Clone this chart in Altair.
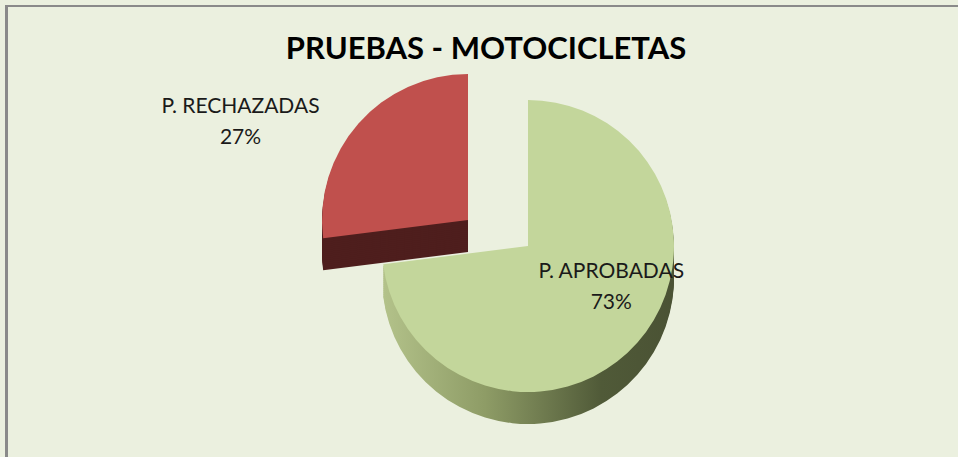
import altair as alt
import pandas as pd

# ---- data ----
categories = ["P. APROBADAS", "P. RECHAZADAS"]
values = [73, 27]
order_idx = [0, 1]
title_text = "PRUEBAS - MOTOCICLETAS"

top_colors = {"P. APROBADAS": "#C3D69B", "P. RECHAZADAS": "#C0504D"}

total = sum(values)
labels = [f"{c}\n{round(v * 100 / total)}%" for c, v in zip(categories, values)]
df = pd.DataFrame({"cat": categories, "value": values, "idx": order_idx, "label": labels})

W, H = 958, 457
CX, CY = 528, 246
R = 146
DEPTH = 32
RED_DX, RED_DY = -60, -26
FONT = "Lato"

base = alt.Chart(df).encode(
    theta=alt.Theta("value:Q", stack=True),
    order=alt.Order("idx:Q"),
)

def slice_layer(cat, fill, dx, dy, extra_y=0):
    return base.mark_arc(radius=R, stroke=None).encode(
        x=alt.value(CX + dx),
        y=alt.value(CY + dy + extra_y),
        fill=alt.value(fill),
        opacity=alt.condition(alt.datum.cat == cat, alt.value(1), alt.value(0)),
    )

green_side = alt.Gradient(
    gradient="linear",
    stops=[
        alt.GradientStop(color="#B3C28A", offset=0),
        alt.GradientStop(color="#8E9C66", offset=0.35),
        alt.GradientStop(color="#505A38", offset=0.75),
        alt.GradientStop(color="#4A5234", offset=1),
    ],
    x1=0, x2=1, y1=0, y2=0,
)

layers = []
# red slice: side then top
for d in range(DEPTH, 0, -2):
    layers.append(slice_layer("P. RECHAZADAS", "#4E1E1D", RED_DX, RED_DY, d))
layers.append(slice_layer("P. RECHAZADAS", top_colors["P. RECHAZADAS"], RED_DX, RED_DY))
# green slice: side then top
for d in range(DEPTH, 0, -2):
    layers.append(
        base.mark_arc(radius=R, fill=green_side).encode(
            x=alt.value(CX),
            y=alt.value(CY + d),
            opacity=alt.condition(alt.datum.cat == "P. APROBADAS", alt.value(1), alt.value(0)),
        )
    )
layers.append(slice_layer("P. APROBADAS", top_colors["P. APROBADAS"], 0, 0))

# labels
green_label = base.mark_text(
    radius=95, font=FONT, fontSize=21, color="#1A1A1A", lineBreak="\n", lineHeight=31,
    dx=12, dy=-37,
).encode(
    x=alt.value(CX), y=alt.value(CY),
    text=alt.condition(alt.datum.cat == "P. APROBADAS", alt.Text("label:N"), alt.value("")),
)
red_label = base.mark_text(
    radius=250, font=FONT, fontSize=21, color="#1A1A1A", lineBreak="\n", lineHeight=31,
    dx=-100, dy=26,
).encode(
    x=alt.value(CX), y=alt.value(CY),
    text=alt.condition(alt.datum.cat == "P. RECHAZADAS", alt.Text("label:N"), alt.value("")),
)

title_df = pd.DataFrame({"t": [title_text]})
title = alt.Chart(title_df).mark_text(
    font=FONT, fontSize=31, fontWeight="bold", color="#000000"
).encode(x=alt.value(486), y=alt.value(50), text="t:N")

border_left = alt.Chart(title_df).mark_rule(color="#8A8A8A", strokeWidth=3).encode(
    x=alt.value(6.5), y=alt.value(5), y2=alt.value(H)
)
border_top = alt.Chart(title_df).mark_rule(color="#8A8A8A", strokeWidth=2).encode(
    x=alt.value(5), x2=alt.value(W), y=alt.value(6)
)

chart = alt.layer(*layers, green_label, red_label, title, border_left, border_top).properties(
    width=W, height=H, autosize=alt.AutoSizeParams(type="none"), padding=0,
    background="#EBF0DF",
).configure_view(stroke=None)

chart.save("out.html", embed_options={"renderer": "svg", "actions": False})
